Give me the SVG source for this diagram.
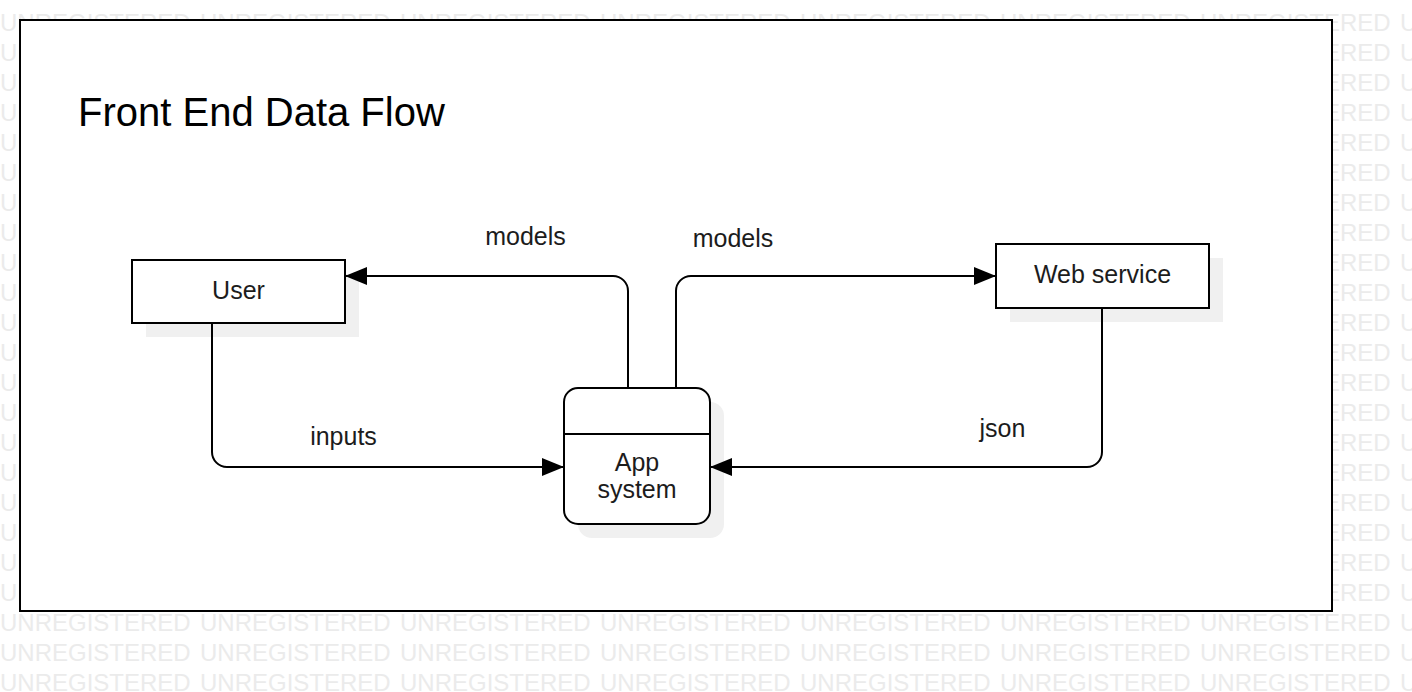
<svg xmlns="http://www.w3.org/2000/svg" xmlns:xlink="http://www.w3.org/1999/xlink" width="1412" height="692" viewBox="0 0 1412 692">
<style>
.wm{font-family:"Liberation Sans",Arial,sans-serif;font-size:24px;fill:#ebebeb}
.lbl{font-family:"Liberation Sans",Arial,sans-serif;font-size:25px;fill:#1c1c1c;text-anchor:middle}
.title{font-family:"Liberation Sans",Arial,sans-serif;font-size:40px;fill:#000}
.box{fill:#fff;stroke:#000;stroke-width:2}
.shadow{fill:#f0f0f0;stroke:none}
.conn{fill:none;stroke:#000;stroke-width:2}
</style>
<defs>
<marker id="arrow" markerUnits="userSpaceOnUse" markerWidth="22" markerHeight="18" viewBox="0 0 22 18" refX="22" refY="9" orient="auto">
<path d="M0,0 L22,9 L0,18 Z" fill="#000"/>
</marker>
<text id="wmrow" class="wm"><tspan x="0">UNREGISTERED</tspan><tspan x="200">UNREGISTERED</tspan><tspan x="400">UNREGISTERED</tspan><tspan x="600">UNREGISTERED</tspan><tspan x="800">UNREGISTERED</tspan><tspan x="1000">UNREGISTERED</tspan><tspan x="1200">UNREGISTERED</tspan><tspan x="1400">UNREGISTERED</tspan></text>
</defs>
<rect x="0" y="0" width="1412" height="692" fill="#fff"/>
<g id="watermark">
<use xlink:href="#wmrow" href="#wmrow" y="31"/>
<use xlink:href="#wmrow" href="#wmrow" y="61"/>
<use xlink:href="#wmrow" href="#wmrow" y="91"/>
<use xlink:href="#wmrow" href="#wmrow" y="121"/>
<use xlink:href="#wmrow" href="#wmrow" y="151"/>
<use xlink:href="#wmrow" href="#wmrow" y="181"/>
<use xlink:href="#wmrow" href="#wmrow" y="211"/>
<use xlink:href="#wmrow" href="#wmrow" y="241"/>
<use xlink:href="#wmrow" href="#wmrow" y="271"/>
<use xlink:href="#wmrow" href="#wmrow" y="301"/>
<use xlink:href="#wmrow" href="#wmrow" y="331"/>
<use xlink:href="#wmrow" href="#wmrow" y="361"/>
<use xlink:href="#wmrow" href="#wmrow" y="391"/>
<use xlink:href="#wmrow" href="#wmrow" y="421"/>
<use xlink:href="#wmrow" href="#wmrow" y="451"/>
<use xlink:href="#wmrow" href="#wmrow" y="481"/>
<use xlink:href="#wmrow" href="#wmrow" y="511"/>
<use xlink:href="#wmrow" href="#wmrow" y="541"/>
<use xlink:href="#wmrow" href="#wmrow" y="571"/>
<use xlink:href="#wmrow" href="#wmrow" y="601"/>
<use xlink:href="#wmrow" href="#wmrow" y="631"/>
<use xlink:href="#wmrow" href="#wmrow" y="661"/>
<use xlink:href="#wmrow" href="#wmrow" y="691"/>
</g>
<g id="frame">
<rect x="20" y="20" width="1312" height="591" class="box"/>
<text x="78" y="126" class="title">Front End Data Flow</text>
</g>
<g id="user">
<rect x="146" y="274" width="213" height="63" class="shadow"/>
<rect x="132" y="260" width="213" height="63" class="box"/>
<text x="238.5" y="299" class="lbl">User</text>
</g>
<g id="web-service">
<rect x="1010" y="258" width="213" height="64" class="shadow"/>
<rect x="996" y="244" width="213" height="64" class="box"/>
<text x="1102.5" y="283" class="lbl">Web service</text>
</g>
<g id="app-system">
<rect x="578" y="402" width="146" height="136" rx="14" class="shadow"/>
<rect x="564" y="388" width="146" height="136" rx="14" class="box"/>
<line x1="564" y1="434" x2="710" y2="434" stroke="#000" stroke-width="2"/>
<text x="637" y="471" class="lbl">App</text>
<text x="637" y="498" class="lbl">system</text>
</g>
<g id="connectors">
<path d="M628,388 V291 A15,15 0 0 0 613,276 H345" class="conn" marker-end="url(#arrow)"/>
<path d="M676,388 V291 A15,15 0 0 1 691,276 H996" class="conn" marker-end="url(#arrow)"/>
<path d="M212,323 V452 A15,15 0 0 0 227,467 H564" class="conn" marker-end="url(#arrow)"/>
<path d="M1102,308 V452 A15,15 0 0 1 1087,467 H710" class="conn" marker-end="url(#arrow)"/>
<text x="525.5" y="245" class="lbl">models</text>
<text x="733" y="247" class="lbl">models</text>
<text x="343.5" y="445" class="lbl">inputs</text>
<text x="1002.5" y="437" class="lbl">json</text>
</g>
</svg>
